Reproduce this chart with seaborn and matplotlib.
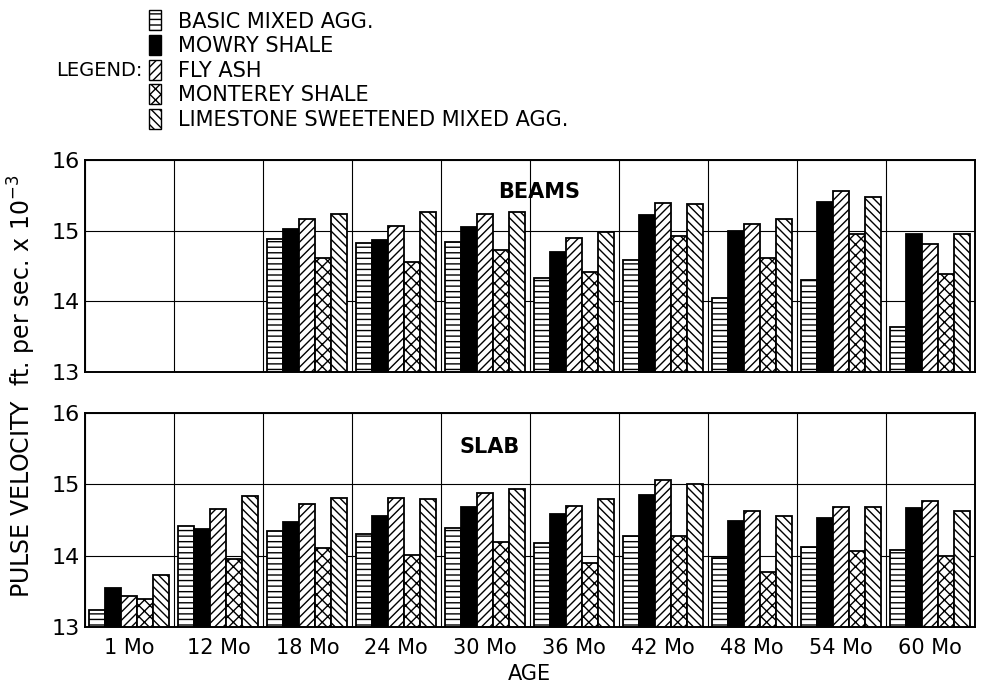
import numpy as np
import pandas as pd
import matplotlib
matplotlib.use("Agg")
import matplotlib.pyplot as plt
import seaborn as sns
from matplotlib.patches import Patch

# --- data (ft/sec x 10^-3) ---
ages = ["1 Mo", "12 Mo", "18 Mo", "24 Mo", "30 Mo", "36 Mo", "42 Mo", "48 Mo", "54 Mo", "60 Mo"]
mixes = ["BASIC MIXED AGG.", "MOWRY SHALE", "FLY ASH", "MONTEREY SHALE",
         "LIMESTONE SWEETENED MIXED AGG."]

beams_basic = [np.nan, np.nan, 14.88, 14.83, 14.84, 14.33, 14.59, 14.05, 14.30, 13.63]
beams_mowry = [np.nan, np.nan, 15.02, 14.87, 15.05, 14.70, 15.22, 15.00, 15.40, 14.96]
beams_flyash = [np.nan, np.nan, 15.17, 15.07, 15.23, 14.89, 15.39, 15.10, 15.56, 14.81]
beams_monterey = [np.nan, np.nan, 14.62, 14.56, 14.73, 14.41, 14.93, 14.62, 14.96, 14.38]
beams_limestone = [np.nan, np.nan, 15.24, 15.27, 15.26, 14.98, 15.38, 15.17, 15.48, 14.95]

slab_basic = [13.24, 14.42, 14.35, 14.30, 14.39, 14.18, 14.27, 13.97, 14.12, 14.08]
slab_mowry = [13.55, 14.37, 14.47, 14.55, 14.68, 14.59, 14.85, 14.49, 14.53, 14.67]
slab_flyash = [13.44, 14.65, 14.73, 14.81, 14.88, 14.70, 15.06, 14.62, 14.68, 14.76]
slab_monterey = [13.39, 13.95, 14.11, 14.01, 14.19, 13.90, 14.27, 13.77, 14.06, 14.00]
slab_limestone = [13.73, 14.83, 14.81, 14.79, 14.94, 14.80, 15.01, 14.55, 14.68, 14.63]

faces = ["white", "black", "white", "white", "white"]
hatches = ["---", "", "////", "xxx", "\\\\\\\\"]


def to_long(series_list):
    rows = []
    for mix, vals in zip(mixes, series_list):
        for age, v in zip(ages, vals):
            rows.append({"age": age, "mix": mix, "velocity": v})
    return pd.DataFrame(rows).dropna()


df_beams = to_long([beams_basic, beams_mowry, beams_flyash, beams_monterey, beams_limestone])
df_slab = to_long([slab_basic, slab_mowry, slab_flyash, slab_monterey, slab_limestone])

sns.set_style("white")
plt.rcParams["font.family"] = ["DejaVu Sans"]
plt.rcParams["hatch.linewidth"] = 1.0
for k in ["text.color", "axes.labelcolor", "xtick.color", "ytick.color"]:
    plt.rcParams[k] = "black"

fig = plt.figure(figsize=(9.95, 6.96), dpi=100)
ax_top = fig.add_axes([0.0854, 0.4655, 0.894, 0.3046])
ax_bot = fig.add_axes([0.0854, 0.0991, 0.894, 0.3075])


def draw_panel(ax, df, label, label_xy):
    sns.barplot(data=df, x="age", y="velocity", hue="mix", order=ages, hue_order=mixes,
                palette=["white"] * 5, edgecolor="black", linewidth=1.3, width=0.9,
                errorbar=None, legend=False, ax=ax)
    for cont, fc, h in zip(ax.containers, faces, hatches):
        for bar in cont:
            bar.set_facecolor(fc)
            bar.set_hatch(h)
            bar.set_edgecolor("black")
    ax.set_ylim(13, 16)
    ax.set_xlim(-0.5, len(ages) - 0.5)
    ax.set_yticks([13, 14, 15, 16])
    ax.set_yticklabels(["13", "14", "15", "16"], fontsize=16)
    ax.set_xticks(np.arange(len(ages)) - 0.5, minor=True)
    ax.grid(True, which="minor", axis="x", color="black", linewidth=0.8)
    ax.grid(True, which="major", axis="y", color="black", linewidth=0.8)
    ax.set_axisbelow(True)
    ax.tick_params(axis="both", which="both", length=0)
    for s in ax.spines.values():
        s.set_color("black")
        s.set_linewidth(1.4)
    ax.set_xlabel("")
    ax.set_ylabel("")
    ax.text(label_xy[0], label_xy[1], label, transform=ax.transAxes, fontsize=15,
            fontweight="bold", ha="center", va="center")


draw_panel(ax_top, df_beams, "BEAMS", (0.51, 0.85))
draw_panel(ax_bot, df_slab, "SLAB", (0.455, 0.84))

ax_top.set_xticklabels([])
ax_bot.set_xticks(np.arange(len(ages)))
ax_bot.set_xticklabels(ages, fontsize=15)
ax_bot.tick_params(axis="x", pad=8)
ax_bot.set_xlabel("AGE", fontsize=15, labelpad=4)

fig.text(0.022, 0.445, "PULSE VELOCITY  ft. per sec. x 10$^{-3}$", rotation=90,
         fontsize=17, ha="center", va="center")

handles = [Patch(facecolor=fc, edgecolor="black", hatch=h, linewidth=1.0)
           for fc, h in zip(faces, hatches)]
fig.legend(handles, mixes, loc="upper left", bbox_to_anchor=(0.139, 1.0), frameon=False,
           fontsize=15, handlelength=0.6, handleheight=1.1, handletextpad=0.8,
           labelspacing=0.17, borderaxespad=0.1)
fig.text(0.056, 0.898, "LEGEND:", fontsize=14, ha="left", va="center")

fig.savefig("out.png", dpi=100)
